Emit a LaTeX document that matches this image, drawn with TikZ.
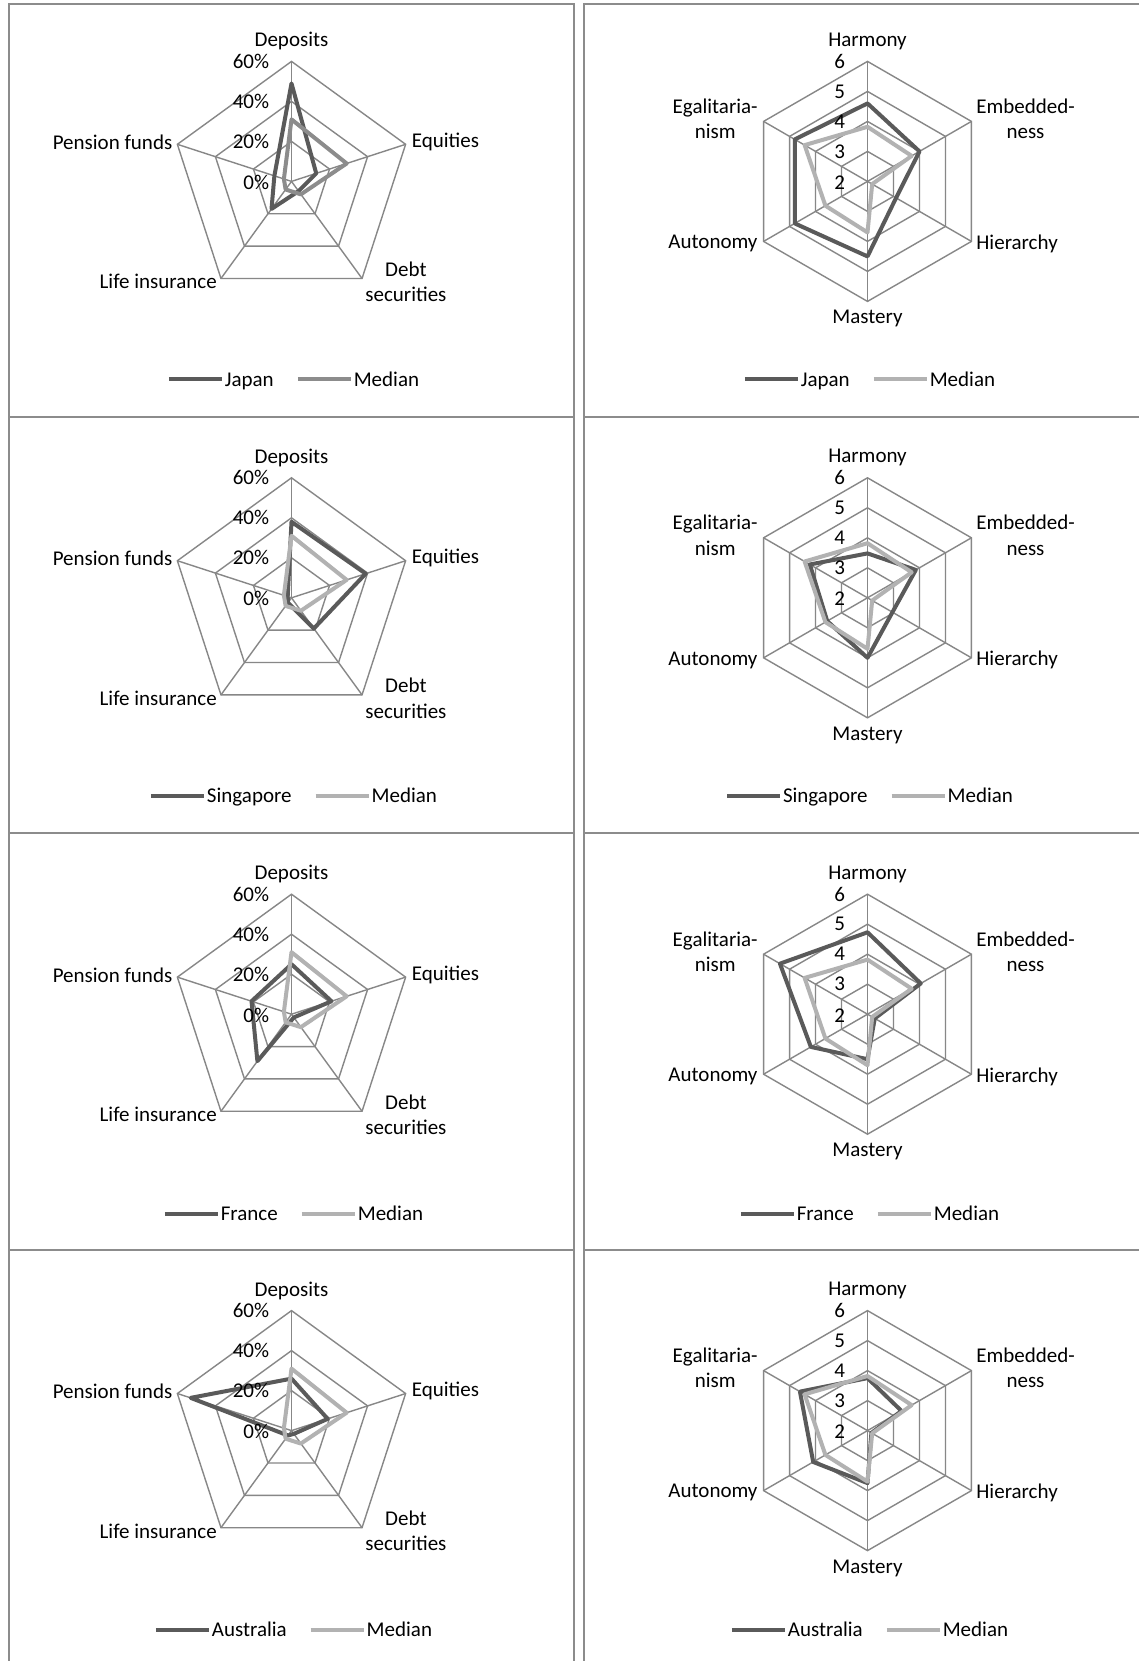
\documentclass[tikz,border=0pt]{standalone}
\usepackage{fontspec}
\setmainfont{Carlito}
\definecolor{darkc}{HTML}{5A5A5A}
\definecolor{midc}{HTML}{8C8C8C}
\definecolor{lightc}{HTML}{B2B2B2}
\definecolor{gridc}{HTML}{878787}
\definecolor{panelc}{HTML}{8C8C8C}
\newcommand\lblfont{\fontsize{10.5}{12.7}\selectfont}
\newcommand\legline[1]{{\color{#1}\rule[2.3pt]{26.5pt}{2pt}}}
% pentagon chart: #1 row, #2 country, #3..#7 Deposits, Equities, Debt, Life, Pension (%), #8 median colour
\newcommand\PentaChart[8]{%
 \begin{scope}[shift={(291.5,{-(181.4+416.4*#1)})}]
  \foreach \rad in {40,80,120}{\draw[gridline] (90:\rad) -- (18:\rad) -- (-54:\rad) -- (-126:\rad) -- (162:\rad) -- cycle;}
  \foreach \ang in {90,18,-54,-126,162}{\draw[gridline] (0,0) -- (\ang:120);}
  \draw[series, draw=darkc] (90:{2*#3}) -- (18:{2*#4}) -- (-54:{2*#5}) -- (-126:{2*#6}) -- (162:{2*#7}) -- cycle;
  \draw[series, draw=#8] (90:62) -- (18:58) -- (-54:16) -- (-126:10) -- (162:8) -- cycle;
  \node[lbl] (p#1dep) at (0,140) {Deposits};
  \node[lbl, anchor=west] (p#1equ) at (120,39.4) {Equities};
  \node[lbl, align=center] (p#1debt) at (114.4,-100.4) {Debt\\securities};
  \node[lbl, anchor=east] (p#1life) at (-74.3,-100.4) {Life insurance};
  \node[lbl, anchor=east] (p#1pen) at (-118.8,39.4) {Pension funds};
  \node[lbl, anchor=east] (p#1ta) at (-22,120) {60\%};
  \node[lbl, anchor=east] (p#1tb) at (-22,80) {40\%};
  \node[lbl, anchor=east] (p#1tc) at (-22,40) {20\%};
  \node[lbl, anchor=east] (p#1td) at (-22,-1) {0\%};
  \node[lbl] (p#1leg) at (2.5,-199) {\legline{darkc}\hspace{1.5pt}#2\hspace{12pt}\legline{#8}\hspace{1.5pt}Median};
 \end{scope}}
% hexagon chart: #1 row, #2 country, #3..#8 Harmony, Embeddedness, Hierarchy, Mastery, Autonomy, Egalitarianism
\newcommand\HexChart[8]{%
 \begin{scope}[shift={(867.5,{-(181.4+416.4*#1)})}]
  \foreach \rad in {30,60,90,120}{\draw[gridline] (90:\rad) -- (30:\rad) -- (-30:\rad) -- (-90:\rad) -- (-150:\rad) -- (150:\rad) -- cycle;}
  \foreach \ang in {90,30,-30,-90,-150,150}{\draw[gridline] (0,0) -- (\ang:120);}
  \draw[series, draw=darkc] (90:{30*(#3-2)}) -- (30:{30*(#4-2)}) -- (-30:{30*(#5-2)}) -- (-90:{30*(#6-2)}) -- (-150:{30*(#7-2)}) -- (150:{30*(#8-2)}) -- cycle;
  \draw[series, draw=lightc] (90:54.6) -- (30:51) -- (-30:5.4) -- (-90:51) -- (-150:48.6) -- (150:72.6) -- cycle;
  \node[lbl] (h#1har) at (0,140) {Harmony};
  \node[lbl, align=center] (h#1emb) at (158,62.7) {Embedded-\\ness};
  \node[lbl, anchor=west] (h#1hie) at (108.5,-62.3) {Hierarchy};
  \node[lbl] (h#1mas) at (0,-137.5) {Mastery};
  \node[lbl, anchor=east] (h#1aut) at (-109.6,-62.3) {Autonomy};
  \node[lbl, align=center] (h#1ega) at (-152.3,62.7) {Egalitaria-\\nism};
  \node[lbl, anchor=east] (h#1ta) at (-22,120) {6};
  \node[lbl, anchor=east] (h#1tb) at (-22,90) {5};
  \node[lbl, anchor=east] (h#1tc) at (-22,60) {4};
  \node[lbl, anchor=east] (h#1td) at (-22,30) {3};
  \node[lbl, anchor=east] (h#1te) at (-22,-1) {2};
  \node[lbl] (h#1leg) at (2.5,-199) {\legline{darkc}\hspace{1.5pt}#2\hspace{12pt}\legline{lightc}\hspace{1.5pt}Median};
 \end{scope}}
\begin{document}
\begin{tikzpicture}[x=0.5pt,y=0.5pt,
  gridline/.style={draw=gridc, line width=0.7pt},
  panel/.style={draw=panelc, line width=1pt},
  series/.style={line width=2pt, line join=round},
  lbl/.style={inner sep=0pt, font=\lblfont}]
\useasboundingbox (0,0) rectangle (1139,-1661);
\clip (0,0) rectangle (1139,-1661);
\fill[white] (0,0) rectangle (1139,-1661);
% panels
\draw[panel] (8.5,-4) rectangle (573.5,-417);
\draw[panel] (583.7,-4) rectangle (1170,-417);
\foreach \k in {0,1,2}{
  \draw[panel] (8.5,{-(417+416.4*\k)}) rectangle (573.5,{-(417+416.4*(\k+1))});
  \draw[panel] (583.7,{-(417+416.4*\k)}) rectangle (1170,{-(417+416.4*(\k+1))});
}
\PentaChart{0}{Japan}{49}{13}{6}{17}{9}{midc}
\PentaChart{1}{Singapore}{38}{39}{19}{3}{2}{lightc}
\PentaChart{2}{France}{25}{21}{2}{29}{21}{lightc}
\PentaChart{3}{Australia}{26}{19}{2}{3}{53}{lightc}
\HexChart{0}{Japan}{4.6}{4.0}{3.1}{4.5}{4.8}{4.8}
\HexChart{1}{Singapore}{3.48}{3.86}{2.96}{4.0}{3.55}{4.22}
\HexChart{2}{France}{4.73}{4.05}{2.28}{3.5}{4.18}{5.37}
\HexChart{3}{Australia}{3.75}{3.31}{2.15}{3.75}{4.09}{4.6}
\end{tikzpicture}
\end{document}
